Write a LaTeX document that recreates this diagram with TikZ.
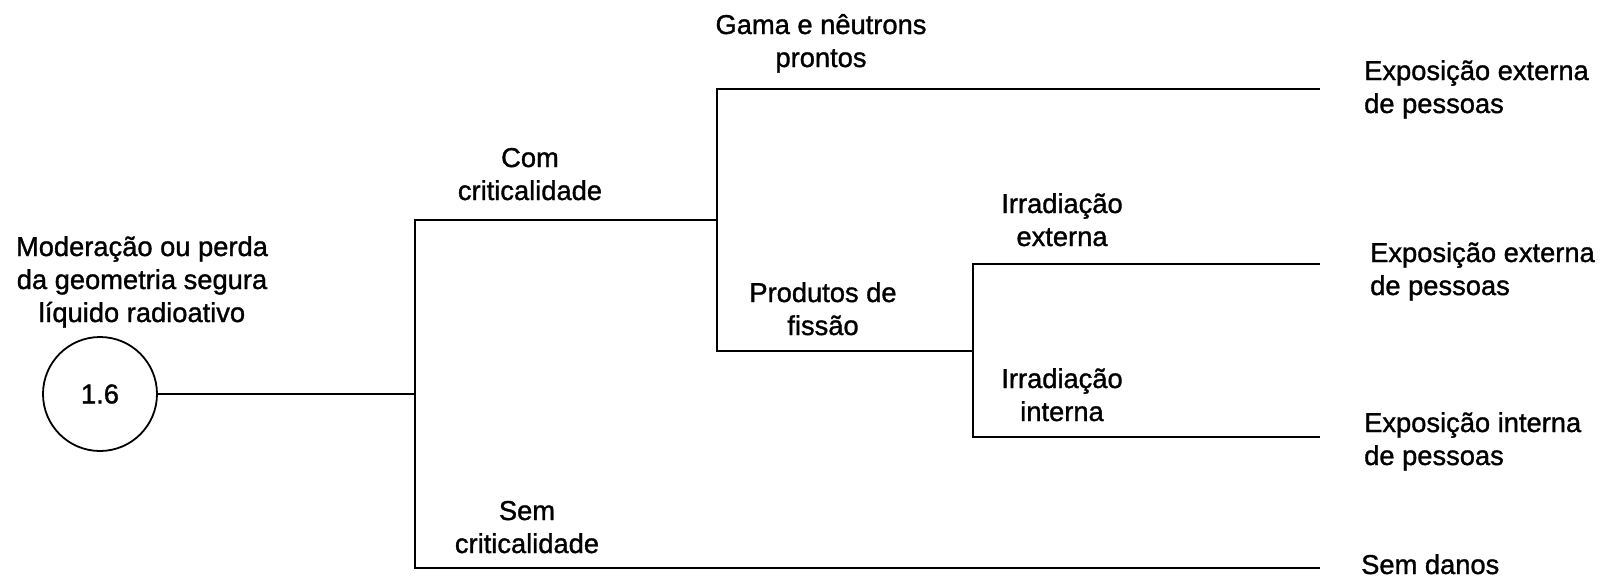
\documentclass[tikz,border=0pt]{standalone}
\usepackage{fontspec}
\setmainfont{Liberation Sans}
\newfontfamily\labfam[RawFeature={embolden=1.2}]{Liberation Sans}
\newcommand\labfont{\labfam\fontsize{27.3}{33}\selectfont}
\newcommand\ctab[1]{\begin{tabular}[b]{@{}c@{}}#1\end{tabular}}
\newcommand\ltab[1]{\begin{tabular}[b]{@{}l@{}}#1\end{tabular}}
\tikzset{
  lab/.style={inner sep=0pt, anchor=base, font=\labfont},
  rlab/.style={inner sep=0pt, anchor=base west, font=\labfont},
  branch/.style={line width=1.8pt, line join=miter},
  event/.style={circle, draw, line width=1.8pt, minimum size=114pt, inner sep=0pt, font=\labfont}
}
\begin{document}
\begin{tikzpicture}[x=1pt,y=-1pt]
\path[fill=white, use as bounding box] (0,0) rectangle (1613,579);

% event circle
\node[event] (ev) at (100,394) {1.6};
\node[lab] (evlab) at (142,322) {\ctab{Moderação ou perda\\da geometria segura\\líquido radioativo}};

% junction coordinates
\coordinate (j1) at (415,394);
\coordinate (j1t) at (415,220);
\coordinate (j1b) at (415,568);
\coordinate (j2m) at (717,220);
\coordinate (j2t) at (717,89);
\coordinate (j2b) at (717,351);
\coordinate (j3m) at (973,351);
\coordinate (j3t) at (973,264);
\coordinate (j3b) at (973,437);
\coordinate (e1) at (1320,89);
\coordinate (e2) at (1320,264);
\coordinate (e3) at (1320,437);
\coordinate (e4) at (1320,568);

% connectors
\draw[branch] (ev) -- (j1);
\draw[branch] (e4) -- (j1b) -- (j1t) -- (j2m);
\draw[branch] (e1) -- (j2t) -- (j2b) -- (j3m);
\draw[branch] (e2) -- (j3t) -- (j3b) -- (e3);

% branch labels
\node[lab] (gama) at (821,67) {\ctab{Gama e nêutrons\\prontos}};
\node[lab] (com) at (530,200) {\ctab{Com\\criticalidade}};
\node[lab] (prod) at (823,335) {\ctab{Produtos de\\fissão}};
\node[lab] (irrext) at (1062,246) {\ctab{Irradiação\\externa}};
\node[lab] (irrint) at (1062,421) {\ctab{Irradiação\\interna}};
\node[lab] (sem) at (527,553) {\ctab{Sem\\criticalidade}};

% outcomes
\node[rlab] (o1) at (1364,113) {\ltab{Exposição externa\\de pessoas}};
\node[rlab] (o2) at (1370,295) {\ltab{Exposição externa\\de pessoas}};
\node[rlab] (o3) at (1364,465) {\ltab{Exposição interna\\de pessoas}};
\node[rlab] (o4) at (1361,574) {Sem danos};
\end{tikzpicture}
\end{document}
